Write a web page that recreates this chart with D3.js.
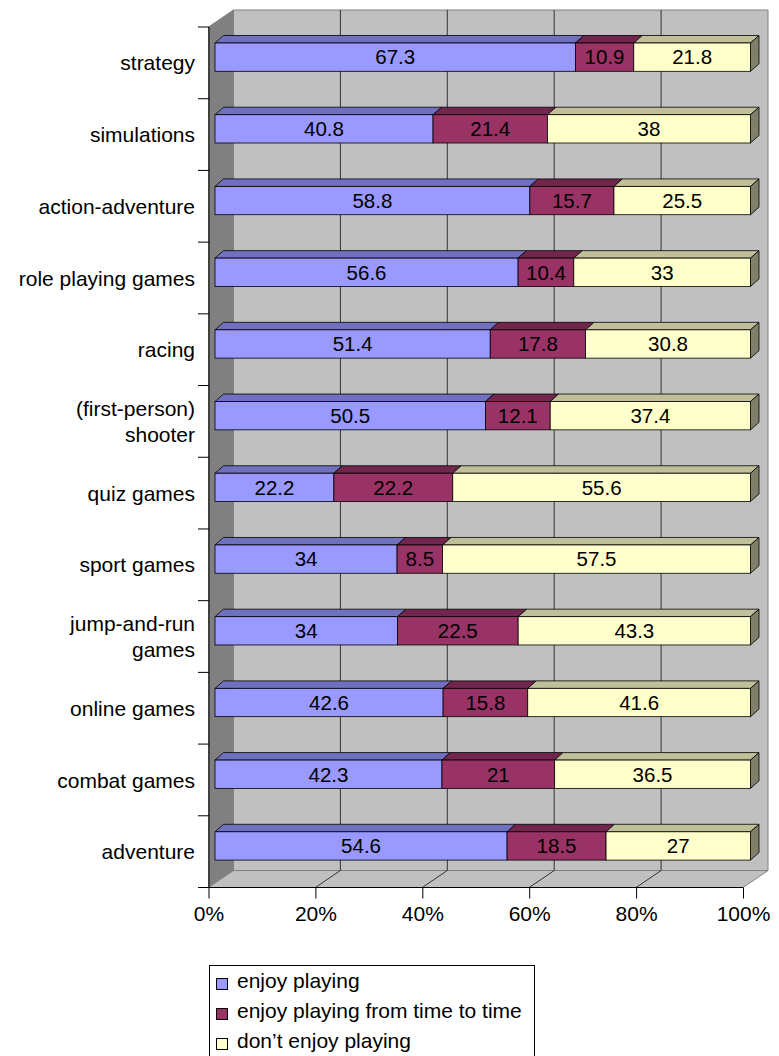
<!DOCTYPE html>
<html><head><meta charset="utf-8">
<script src="https://cdn.jsdelivr.net/npm/d3@7"></script>
<style>html,body{margin:0;padding:0;background:#fff}svg{display:block}text{font-family:"Liberation Sans",Arial,sans-serif;fill:#000}</style>
</head><body><svg id="c" width="779" height="1056"></svg>
<script>
const categories = ["strategy","simulations","action-adventure","role playing games","racing","(first-person)\nshooter","quiz games","sport games","jump-and-run\ngames","online games","combat games","adventure"];
const enjoyPlaying = [67.3,40.8,58.8,56.6,51.4,50.5,22.2,34,34,42.6,42.3,54.6];
const fromTimeToTime = [10.9,21.4,15.7,10.4,17.8,12.1,22.2,8.5,22.5,15.8,21,18.5];
const dontEnjoy = [21.8,38,25.5,33,30.8,37.4,55.6,57.5,43.3,41.6,36.5,27];
const seriesNames = ["enjoy playing","enjoy playing from time to time","don\u2019t enjoy playing"];
const tickValues = [0,0.2,0.4,0.6,0.8,1];

const frontCol = ["#9999FF","#993366","#FFFFCC"];
const topCol = ["#7070C0","#73264D","#BFBF99"];
const sideCol = ["#4D4D80","#4D1A33","#80806A"];

const svg = d3.select("#c");
const FX0=208.5, FX1=743, FY0=27, FY1=887.5;
const DX=25, DY=-17;       // wall depth
const BDX=8.5, BDY=-7.5;   // bar depth
const xFront = d3.scaleLinear([0,1],[FX0,FX1]);
const xBar = d3.scaleLinear([0,1],[215,750.5]);
const y = d3.scaleBand(categories,[FY0,FY1]);

const rows = categories.map((c,i)=>({cat:c, s0:enjoyPlaying[i], s1:fromTimeToTime[i], s2:dontEnjoy[i]}));
const stack = d3.stack().keys(["s0","s1","s2"]).offset(d3.stackOffsetExpand)(rows);

const g = svg.append("g");
const P = pts => pts.map(p=>p.join(",")).join(" ");
// back wall
g.append("polygon").attr("points",P([[FX0+DX,FY0+DY],[FX1+DX,FY0+DY],[FX1+DX,FY1+DY],[FX0+DX,FY1+DY]]))
 .attr("fill","#C0C0C0").attr("stroke","#808080").attr("stroke-width",1);
// side wall
g.append("polygon").attr("points",P([[FX0,FY0],[FX0+DX,FY0+DY],[FX0+DX,FY1+DY],[FX0,FY1]]))
 .attr("fill","#808080").attr("stroke","#808080").attr("stroke-width",1);
// floor
g.append("polygon").attr("points",P([[FX0,FY1],[FX1,FY1],[FX1+DX,FY1+DY],[FX0+DX,FY1+DY]]))
 .attr("fill","#C0C0C0").attr("stroke","#808080").attr("stroke-width",1);
// gridlines back wall and floor
tickValues.filter(t=>t>0&&t<1).forEach(t=>{
  const xb = xFront(t)+DX;
  g.append("line").attr("x1",xb).attr("x2",xb).attr("y1",FY0+DY).attr("y2",FY1+DY).attr("stroke","#333").attr("stroke-width",1);
  g.append("line").attr("x1",xFront(t)).attr("x2",xb).attr("y1",FY1).attr("y2",FY1+DY).attr("stroke","#333").attr("stroke-width",1);
});
// axes lines
g.append("line").attr("x1",209).attr("x2",209).attr("y1",FY0).attr("y2",FY1).attr("stroke","#000");
// left ticks
d3.range(categories.length+1).forEach(i=>{
  const yy = FY0 + i*y.bandwidth();
  g.append("line").attr("x1",198).attr("x2",209).attr("y1",yy).attr("y2",yy).attr("stroke","#000");
});
// bottom axis
const ax = svg.append("g").attr("transform",`translate(0,${FY1})`)
 .call(d3.axisBottom(xFront).tickValues(tickValues).tickFormat(d3.format(".0%")).tickSize(11).tickPadding(8));
ax.select(".domain").attr("d",`M198,0H${FX1}`).attr("stroke","#000");
ax.selectAll(".tick line").attr("stroke","#000");
ax.selectAll(".tick text").attr("font-size","21px").attr("font-family","Liberation Sans, Arial, sans-serif").attr("fill","#000");

// category labels
categories.forEach(c=>{
  const lines = c.split("\n");
  const cy = y(c)+y.bandwidth()/2;
  const t = svg.append("text").attr("text-anchor","end").attr("font-size","21px");
  lines.forEach((ln,k)=>{
    t.append("tspan").attr("x",195).attr("y",cy+7.6+(k-(lines.length-1)/2)*26.7).text(ln);
  });
});

// bars
const BH = 28.3, BOFF = 16;
const bars = svg.append("g");
rows.forEach((r,i)=>{
  const yt = y(r.cat)+BOFF;
  stack.forEach((ser,k)=>{
    const d = ser[i];
    const x0 = xBar(d[0]), x1 = xBar(d[1]);
    bars.append("polygon").attr("points",P([[x0,yt],[x1,yt],[x1+BDX,yt+BDY],[x0+BDX,yt+BDY]]))
      .attr("fill",topCol[k]).attr("stroke","#000").attr("stroke-width",0.8).attr("stroke-linejoin","round");
    if(k===stack.length-1){
      bars.append("polygon").attr("points",P([[x1,yt],[x1+BDX,yt+BDY],[x1+BDX,yt+BDY+BH],[x1,yt+BH]]))
        .attr("fill",sideCol[k]).attr("stroke","#000").attr("stroke-width",0.8);
    }
    bars.append("rect").attr("x",x0).attr("y",yt).attr("width",x1-x0).attr("height",BH)
      .attr("fill",frontCol[k]).attr("stroke","#000").attr("stroke-width",0.8);
    const v = [r.s0,r.s1,r.s2][k];
    bars.append("text").attr("x",(x0+x1)/2).attr("y",yt+BH/2+7.3).attr("text-anchor","middle")
      .attr("font-size","20.5px").text(v);
  });
});

// legend
const lg = svg.append("g");
lg.append("rect").attr("x",209.5).attr("y",965.5).attr("width",325).attr("height",100).attr("fill","#fff").attr("stroke","#000").attr("stroke-width",1);
seriesNames.forEach((n,k)=>{
  lg.append("rect").attr("x",216.5).attr("y",978.5+k*30).attr("width",11).attr("height",11)
    .attr("fill",frontCol[k]).attr("stroke","#000").attr("stroke-width",1);
  lg.append("text").attr("x",237).attr("y",988+k*30).attr("font-size","21px").text(n);
});
</script></body></html>
